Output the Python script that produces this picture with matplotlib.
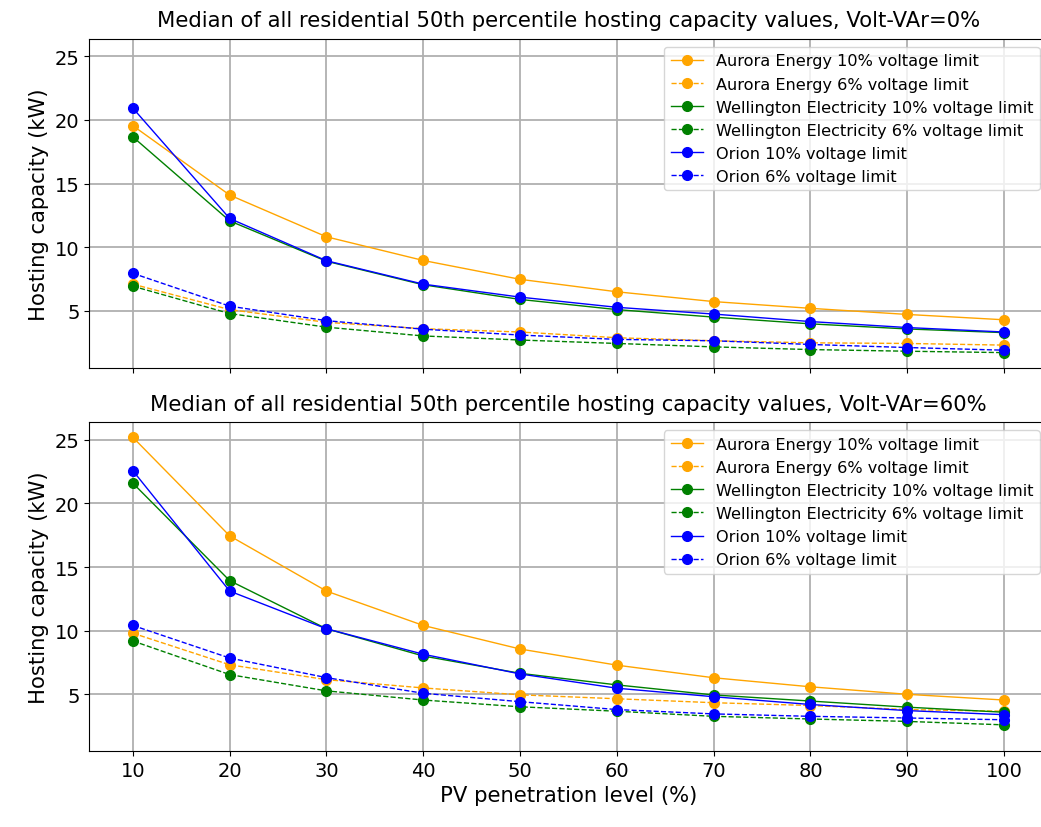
import matplotlib
matplotlib.use('Agg')
import matplotlib.pyplot as plt

pv_levels = [10, 20, 30, 40, 50, 60, 70, 80, 90, 100]

# Volt-VAr = 0%
aurora_10_vv0 = [19.55, 14.1, 10.82, 8.96, 7.48, 6.5, 5.73, 5.2, 4.72, 4.3]
aurora_6_vv0 = [7.1, 5.1, 4.1, 3.6, 3.34, 2.89, 2.65, 2.49, 2.44, 2.31]
wellington_10_vv0 = [18.67, 12.07, 8.9, 7.05, 5.9, 5.1, 4.51, 3.98, 3.58, 3.29]
wellington_6_vv0 = [6.94, 4.79, 3.72, 3.03, 2.71, 2.44, 2.17, 1.96, 1.83, 1.72]
orion_10_vv0 = [20.93, 12.26, 8.94, 7.1, 6.08, 5.28, 4.75, 4.16, 3.69, 3.34]
orion_6_vv0 = [7.95, 5.37, 4.23, 3.56, 3.1, 2.76, 2.65, 2.36, 2.12, 1.91]

# Volt-VAr = 60%
aurora_10_vv60 = [25.19, 17.45, 13.11, 10.41, 8.56, 7.29, 6.3, 5.59, 5.0, 4.55]
aurora_6_vv60 = [9.8, 7.32, 6.15, 5.5, 4.96, 4.65, 4.34, 4.12, 3.8, 3.67]
wellington_10_vv60 = [21.59, 13.93, 10.15, 8.01, 6.65, 5.74, 4.95, 4.47, 3.99, 3.59]
wellington_6_vv60 = [9.19, 6.55, 5.27, 4.55, 4.02, 3.67, 3.27, 3.06, 2.87, 2.6]
orion_10_vv60 = [22.57, 13.11, 10.15, 8.15, 6.6, 5.48, 4.81, 4.2, 3.72, 3.4]
orion_6_vv60 = [10.41, 7.85, 6.31, 5.08, 4.42, 3.8, 3.46, 3.27, 3.14, 3.0]

labels = ['Aurora Energy 10% voltage limit', 'Aurora Energy 6% voltage limit',
          'Wellington Electricity 10% voltage limit', 'Wellington Electricity 6% voltage limit',
          'Orion 10% voltage limit', 'Orion 6% voltage limit']
colors = ['orange', 'orange', 'green', 'green', 'blue', 'blue']
styles = ['-', '--', '-', '--', '-', '--']

panels = [
    ('Median of all residential 50th percentile hosting capacity values, Volt-VAr=0%',
     [aurora_10_vv0, aurora_6_vv0, wellington_10_vv0, wellington_6_vv0, orion_10_vv0, orion_6_vv0]),
    ('Median of all residential 50th percentile hosting capacity values, Volt-VAr=60%',
     [aurora_10_vv60, aurora_6_vv60, wellington_10_vv60, wellington_6_vv60, orion_10_vv60, orion_6_vv60]),
]

plt.rcParams['font.size'] = 14

fig, axes = plt.subplots(2, 1, sharex=True, sharey=True, figsize=(10.41, 8.28), dpi=100)
fig.subplots_adjust(left=0.0858, right=1.0064, top=0.9517, bottom=0.0918, hspace=0.167)

for ax, (title, series) in zip(axes, panels):
    for values, color, style, label in zip(series, colors, styles, labels):
        ax.plot(pv_levels, values, color=color, linestyle=style, marker='o',
                markersize=7, linewidth=1.0, label=label)
    ax.set_title(title, fontsize=15.2, pad=9)
    ax.set_ylabel('Hosting capacity (kW)', fontsize=15.2)
    ax.grid(True, linewidth=1.3, color='#b0b0b0')
    ax.legend(loc='upper right', fontsize=11.6)

axes[0].set_xticks(pv_levels)
axes[0].set_yticks([5, 10, 15, 20, 25])
axes[1].set_xlabel('PV penetration level (%)', fontsize=15.2)

fig.savefig('out.png', dpi=100)
